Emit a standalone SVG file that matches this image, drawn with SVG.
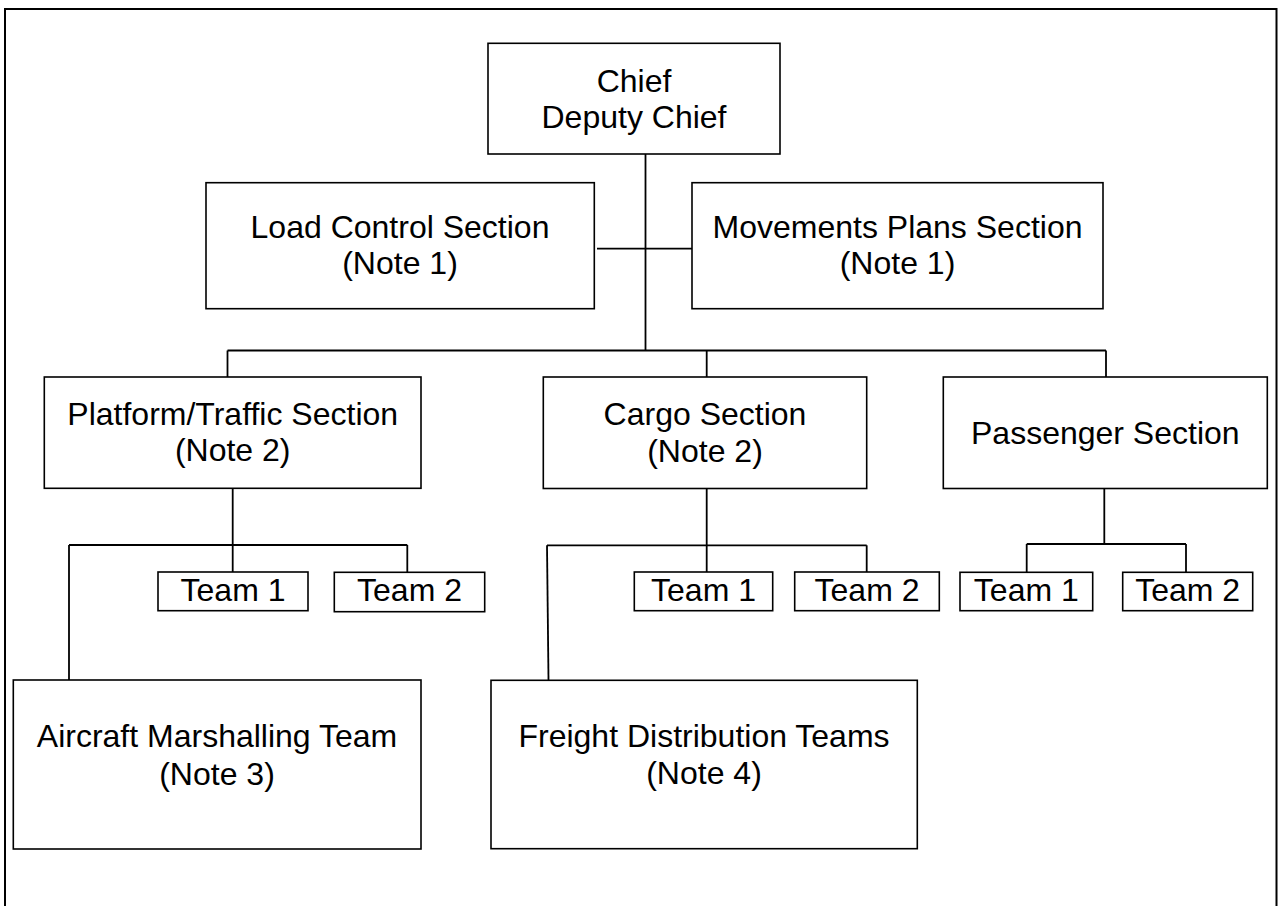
<svg xmlns="http://www.w3.org/2000/svg" width="1280" height="906" viewBox="0 0 1280 906">
  <style>
    .box { fill: #ffffff; stroke: #000000; stroke-width: 1.6; }
    .frame { fill: none; stroke: #000000; stroke-width: 2; }
    .link { fill: none; stroke: #000000; stroke-width: 1.8; }
    text { font-family: "Liberation Sans", Arial, sans-serif; font-size: 32px; fill: #000000; text-anchor: middle; }
  </style>
  <rect x="0" y="0" width="1280" height="906" fill="#ffffff"/>
  <!-- page frame (bottom edge runs past the sheet) -->
  <rect class="frame" x="5" y="9" width="1271.5" height="920"/>

  <!-- connectors -->
  <g id="connectors">
    <!-- chief trunk and side links -->
    <line class="link" x1="645.5" y1="154" x2="645.5" y2="350.5"/>
    <line class="link" x1="597" y1="248.7" x2="692" y2="248.7"/>
    <!-- main bus to sections -->
    <line class="link" x1="227.5" y1="350.5" x2="1106" y2="350.5"/>
    <line class="link" x1="227.5" y1="350.5" x2="227.5" y2="377"/>
    <line class="link" x1="706.7" y1="350.5" x2="706.7" y2="377"/>
    <line class="link" x1="1106" y1="350.5" x2="1106" y2="377"/>
    <!-- platform/traffic branch -->
    <line class="link" x1="232.7" y1="488" x2="232.7" y2="572"/>
    <line class="link" x1="69" y1="545" x2="407.3" y2="545"/>
    <line class="link" x1="407.3" y1="545" x2="407.3" y2="572"/>
    <line class="link" x1="69" y1="545" x2="69" y2="680"/>
    <!-- cargo branch -->
    <line class="link" x1="706.7" y1="488" x2="706.7" y2="572"/>
    <line class="link" x1="547" y1="545.3" x2="866.7" y2="545.3"/>
    <line class="link" x1="866.7" y1="545.3" x2="866.7" y2="572"/>
    <line class="link" x1="547" y1="545.3" x2="548.5" y2="680"/>
    <!-- passenger branch -->
    <line class="link" x1="1104.3" y1="488" x2="1104.3" y2="544"/>
    <line class="link" x1="1026.7" y1="544" x2="1186" y2="544"/>
    <line class="link" x1="1026.7" y1="544" x2="1026.7" y2="572"/>
    <line class="link" x1="1186" y1="544" x2="1186" y2="572"/>
  </g>

  <g id="chief">
    <rect class="box" x="488" y="43.3" width="292" height="110.7"/>
    <text x="634" y="91.7">Chief</text>
    <text x="634" y="128">Deputy Chief</text>
  </g>

  <g id="load-control">
    <rect class="box" x="206" y="182.7" width="388.3" height="126"/>
    <text x="400" y="238">Load Control Section</text>
    <text x="400" y="274">(Note 1)</text>
  </g>

  <g id="movements-plans">
    <rect class="box" x="692" y="182.7" width="411" height="126"/>
    <text x="897.5" y="238">Movements Plans Section</text>
    <text x="897.5" y="274">(Note 1)</text>
  </g>

  <g id="platform-traffic">
    <rect class="box" x="44.3" y="377" width="376.7" height="111.3"/>
    <text x="232.7" y="424.5">Platform/Traffic Section</text>
    <text x="232.7" y="460.7">(Note 2)</text>
  </g>

  <g id="cargo">
    <rect class="box" x="543.3" y="377" width="323.4" height="111.5"/>
    <text x="705" y="425">Cargo Section</text>
    <text x="705" y="461.5">(Note 2)</text>
  </g>

  <g id="passenger">
    <rect class="box" x="943.3" y="377" width="324" height="111.5"/>
    <text x="1105.3" y="444">Passenger Section</text>
  </g>

  <g id="platform-team-1">
    <rect class="box" x="158" y="572" width="150" height="38.7"/>
    <text x="233" y="601">Team 1</text>
  </g>
  <g id="platform-team-2">
    <rect class="box" x="334.3" y="572.3" width="150.4" height="39.4"/>
    <text x="409.5" y="601.3">Team 2</text>
  </g>

  <g id="cargo-team-1">
    <rect class="box" x="634.3" y="572" width="138.4" height="38.7"/>
    <text x="703.5" y="601">Team 1</text>
  </g>
  <g id="cargo-team-2">
    <rect class="box" x="794.7" y="572" width="144.6" height="38.7"/>
    <text x="867" y="601">Team 2</text>
  </g>

  <g id="passenger-team-1">
    <rect class="box" x="960" y="572.3" width="132.7" height="38.4"/>
    <text x="1026.3" y="601">Team 1</text>
  </g>
  <g id="passenger-team-2">
    <rect class="box" x="1122.7" y="572.3" width="130" height="38.4"/>
    <text x="1187.7" y="601">Team 2</text>
  </g>

  <g id="aircraft-marshalling">
    <rect class="box" x="13.3" y="680" width="407.7" height="169"/>
    <text x="217" y="747.3">Aircraft Marshalling Team</text>
    <text x="217" y="785">(Note 3)</text>
  </g>

  <g id="freight-distribution">
    <rect class="box" x="491" y="680.3" width="426.3" height="168.4"/>
    <text x="704" y="746.7">Freight Distribution Teams</text>
    <text x="704" y="784.3">(Note 4)</text>
  </g>
</svg>
